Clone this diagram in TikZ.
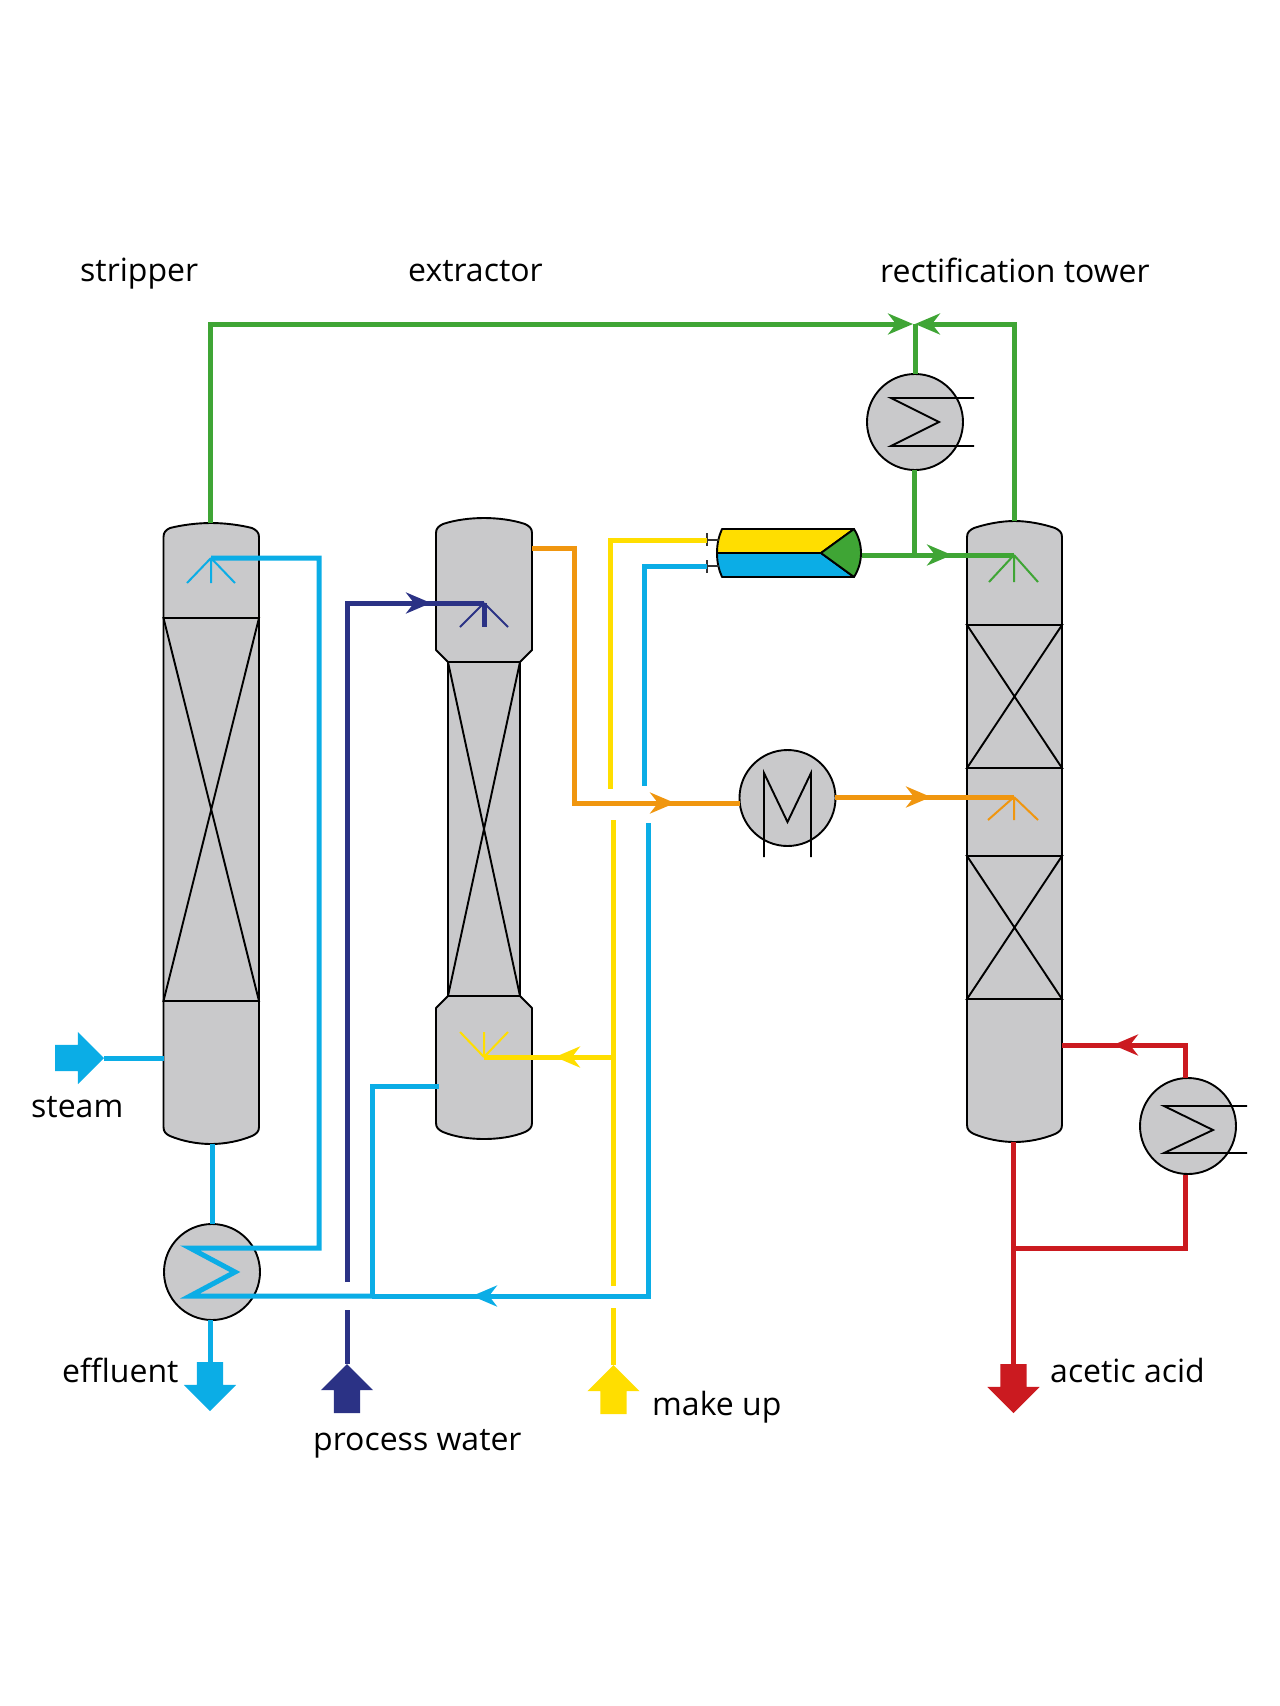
\documentclass[tikz,border=0pt]{standalone}
\usepackage{fontspec}
\setmainfont{Open Sans}
\usepackage{xcolor}
\usetikzlibrary{shapes.arrows, arrows.meta}
\definecolor{shellgray}{HTML}{C9C9CB}
\definecolor{linegreen}{HTML}{3FA535}
\definecolor{lineblue}{HTML}{0BADE6}
\definecolor{lineyellow}{HTML}{FFDE00}
\definecolor{lineorange}{HTML}{F0960F}
\definecolor{linenavy}{HTML}{2B3285}
\definecolor{linered}{HTML}{CB1A20}

\begin{document}
\begin{tikzpicture}[x=1pt, y=-1pt,
    shell/.style={draw=black, fill=shellgray, line width=1.9pt, line join=round},
    bed/.style={draw=black, line width=1.9pt},
    exchanger/.style={circle, draw=black, fill=shellgray, line width=1.9pt, minimum size=96pt, inner sep=0pt, outer sep=0pt},
    pipe/.style={line width=5pt, line join=miter},
    pipeon/.style={pipe, shorten <=-12pt},
    spray/.style={line width=2pt},
    flow/.style={pipe, -{Stealth[length=25pt,width=21pt,inset=8pt]}},
    bigarrow/.style={single arrow, draw=none, inner sep=13pt, outer sep=0pt, single arrow head extend=13pt, single arrow head indent=0pt, minimum height=49pt, anchor=tip},
    label/.style={anchor=base west, inner sep=0pt, font=\fontsize{32}{36}\selectfont}
]
    \useasboundingbox (0,0) rectangle (1280,1706);

    % Stripper
    \draw [shell] (163.5,1127) -- (163.5,537) .. controls (163.5,532) and (166,530) .. (170,528) .. controls (182,525) and (197,523) .. (211,523) .. controls (225,523) and (240,525) .. (252,528) .. controls (256,530) and (259,532) .. (259,537) -- (259,1127) .. controls (259,1132) and (256,1134) .. (252,1136) .. controls (240,1141) and (225,1144) .. (211,1144) .. controls (197,1144) and (182,1141) .. (170,1136) .. controls (166,1134) and (163.5,1132) .. (163.5,1127) -- cycle;
    \draw [bed] (163.5,618) -- (259,618) -- (163.5,1001) -- (259,1001) -- cycle;

    % Extractor
    \draw [shell] (436,1123) -- (436,1008) -- (448,996) -- (448,662) -- (436,650) -- (436,533) .. controls (436,528) and (439,526) .. (443,524) .. controls (455,520) and (470,518) .. (484,518) .. controls (498,518) and (513,520) .. (525,524) .. controls (529,526) and (532,528) .. (532,533) -- (532,650) -- (520,662) -- (520,996) -- (532,1008) -- (532,1123) .. controls (532,1128) and (529,1130) .. (525,1132) .. controls (513,1137) and (498,1139) .. (484,1139) .. controls (470,1139) and (455,1137) .. (443,1132) .. controls (439,1130) and (436,1128) .. (436,1123) -- cycle;
    \draw [bed] (448,662) -- (520,662) -- (448,996) -- (520,996) -- cycle;

    % Rectification tower
    \draw [shell] (967,1125) -- (967,537) .. controls (967,532) and (970,530) .. (974,528) .. controls (986,524) and (1001,521) .. (1014.5,521) .. controls (1028,521) and (1043,524) .. (1055,528) .. controls (1059,530) and (1062,532) .. (1062,537) -- (1062,1125) .. controls (1062,1130) and (1059,1132) .. (1055,1134) .. controls (1043,1139) and (1028,1142) .. (1014.5,1142) .. controls (1001,1142) and (986,1139) .. (974,1134) .. controls (970,1132) and (967,1130) .. (967,1125) -- cycle;
    \draw [bed] (967,625) -- (1062,625) -- (967,768) -- (1062,768) -- cycle;
    \draw [bed] (967,856) -- (1062,856) -- (967,999) -- (1062,999) -- cycle;

    % Exchangers
    \node (condenser) [exchanger] at (915,422) {};
    \node (reboiler) [exchanger] at (1188,1126) {};
    \node (recovery) [exchanger] at (212,1272) {};
    \node (cooler) [exchanger] at (787.5,798) {};
    \draw [bed] (974,398) -- (891,398) -- (939,422) -- (891,446) -- (974,446);
    \draw [bed] (1247,1106) -- (1164,1106) -- (1213,1130) -- (1164,1153) -- (1247,1153);
    \draw [bed] (764,857) -- (764,773) -- (787.5,822) -- (811,773) -- (811,857);

    % Decanter
    \draw [shell, fill=lineyellow] (717,553) .. controls (717,543) and (719,536) .. (722,529) -- (854,529) -- (821,553) -- cycle;
    \draw [shell, fill=lineblue] (717,553) .. controls (717,563) and (719,570) .. (722,577) -- (854,577) -- (821,553) -- cycle;
    \draw [shell, fill=linegreen] (854,529) .. controls (859,537) and (861,545) .. (861,553) .. controls (861,561) and (859,569) .. (854,577) -- (821,553) -- cycle;
    \draw [bed, draw=black!80] (707,533) -- (707,546) (707,540) -- (719,540);
    \draw [bed, draw=black!80] (707,560) -- (707,573) (707,566) -- (719,566);

    % Ports
    \coordinate (decanterYellow) at (707,540);
    \coordinate (decanterBlue) at (707,566);
    \coordinate (decanterGreen) at (862,555);
    \coordinate (stripperTop) at (210,523);
    \coordinate (stripperBottom) at (212,1144);
    \coordinate (stripperSteam) at (163.5,1058);
    \coordinate (towerTop) at (1014,521);
    \coordinate (towerBottom) at (1013.5,1142);
    \coordinate (towerReturn) at (1062,1045);
    \coordinate (extractorTop) at (532,548);
    \coordinate (extractorSide) at (439,1086);
    \coordinate (coolerIn) at (740,803);
    \coordinate (coolerOut) at (835,797);
    \coordinate (recoveryOut) at (210,1320);
    \coordinate (condenserOut) at (914,470);
    \coordinate (reboilerOut) at (1185,1175);
    \coordinate (reboilerIn) at (1185,1078);
    \coordinate (sprayStripper) at (211,558);
    \coordinate (sprayExtractor) at (484,603);
    \coordinate (sprayMakeup) at (484,1057);
    \coordinate (sprayTowerTop) at (1014,555);
    \coordinate (sprayTowerMid) at (1014,797);
    \coordinate (mergeLeft) at (913,324);
    \coordinate (mergeRight) at (915,324);
    \coordinate (greenTip) at (952,555);
    \coordinate (greenJoin) at (914,555);
    \coordinate (navyTip) at (431,603);
    \coordinate (orangeTip) at (675,803);
    \coordinate (orangeOut) at (931,797);
    \coordinate (yellowTip) at (555,1057);
    \coordinate (blueTip) at (472,1296);
    \coordinate (redTip) at (1113,1045);
    \coordinate (redJoin) at (1013.5,1248);
    \coordinate (blueJoin) at (372,1296);
    \coordinate (zigTop) at (190,1248);
    \coordinate (zigBottom) at (190,1296);

    % Big arrows
    \node (steamin) [bigarrow, fill=lineblue] at (104,1058) {};
    \node (effluentout) [bigarrow, fill=lineblue, shape border rotate=270] at (210,1411) {};
    \node (waterin) [bigarrow, fill=linenavy, shape border rotate=90] at (347,1364) {};
    \node (makeupin) [bigarrow, fill=lineyellow, shape border rotate=90] at (613.5,1365) {};
    \node (acidout) [bigarrow, fill=linered, shape border rotate=270] at (1013.5,1413) {};

    % Green lines
    \draw [flow, linegreen] (stripperTop) |- (mergeLeft);
    \draw [flow, linegreen] (towerTop) |- (mergeRight);
    \draw [pipe, linegreen] (mergeRight) -- (condenser.north);
    \draw [pipe, linegreen] (condenserOut) -- (greenJoin);
    \draw [flow, linegreen] (decanterGreen) -- (greenTip);
    \draw [pipeon, linegreen] (greenTip) -- (sprayTowerTop);
    \draw [spray, linegreen] (sprayTowerTop) -- (989,582) (sprayTowerTop) -- (1014,582) (sprayTowerTop) -- (1038,582);

    % Blue lines
    \draw [pipe, lineblue] (steamin.tip) -- (stripperSteam);
    \draw [pipe, lineblue] (stripperBottom) -- (recovery.north);
    \draw [pipe, lineblue] (recoveryOut) -- (effluentout.tail);
    \draw [pipe, lineblue] (sprayStripper) -| (319,1248) -- (zigTop) -- (235,1272) -- (zigBottom) -- (blueJoin);
    \draw [spray, lineblue] (sprayStripper) -- (187,583) (sprayStripper) -- (211,583) (sprayStripper) -- (235,583);
    \draw [pipe, lineblue] (blueJoin) -- (372,1086) -- (extractorSide);
    \draw [flow, lineblue] (648,823) -- (648,1296) -- (blueTip);
    \draw [pipeon, lineblue] (blueTip) -- (blueJoin);
    \draw [pipe, lineblue] (decanterBlue) -| (644,786);

    % Process water
    \draw [pipe, linenavy] (waterin.tip) -- (347,1310);
    \draw [flow, linenavy] (347,1282) |- (navyTip);
    \draw [pipeon, linenavy] (navyTip) -- (sprayExtractor);
    \draw [pipe, linenavy] (sprayExtractor) -- (484,627);
    \draw [spray, linenavy] (sprayExtractor) -- (460,627) (sprayExtractor) -- (508,627);

    % Make up
    \draw [pipe, lineyellow] (makeupin.tip) -- (613.5,1308);
    \draw [pipe, lineyellow] (613.5,1286) -- (613.5,820);
    \draw [pipe, lineyellow] (decanterYellow) -| (610,789);
    \draw [flow, lineyellow] (613,1057) -- (yellowTip);
    \draw [pipeon, lineyellow] (yellowTip) -- (sprayMakeup);
    \draw [spray, lineyellow] (sprayMakeup) -- (460,1032) (sprayMakeup) -- (484,1032) (sprayMakeup) -- (508,1032);

    % Orange lines
    \draw [flow, lineorange] (extractorTop) -| (574,803) -- (orangeTip);
    \draw [pipeon, lineorange] (orangeTip) -- (coolerIn);
    \draw [flow, lineorange] (coolerOut) -- (orangeOut);
    \draw [pipeon, lineorange] (orangeOut) -- (sprayTowerMid);
    \draw [spray, lineorange] (sprayTowerMid) -- (988,820) (sprayTowerMid) -- (1014,820) (sprayTowerMid) -- (1038,820);

    % Red lines
    \draw [pipe, linered] (towerBottom) -- (acidout.tail);
    \draw [pipe, linered] (reboilerOut) |- (redJoin);
    \draw [flow, linered] (reboilerIn) |- (redTip);
    \draw [pipeon, linered] (redTip) -- (towerReturn);

    % Labels
    \node (stripperlabel) [label] at (80,281) {stripper};
    \node (extractorlabel) [label] at (408,281) {extractor};
    \node (towerlabel) [label] at (880,282) {rectification tower};
    \node (steamlabel) [label] at (31,1117) {steam};
    \node (effluentlabel) [label] at (62,1382) {effluent};
    \node (waterlabel) [label] at (313,1450) {process water};
    \node (makeuplabel) [label] at (652,1415) {make up};
    \node (acidlabel) [label] at (1050,1382) {acetic acid};
\end{tikzpicture}
\end{document}
